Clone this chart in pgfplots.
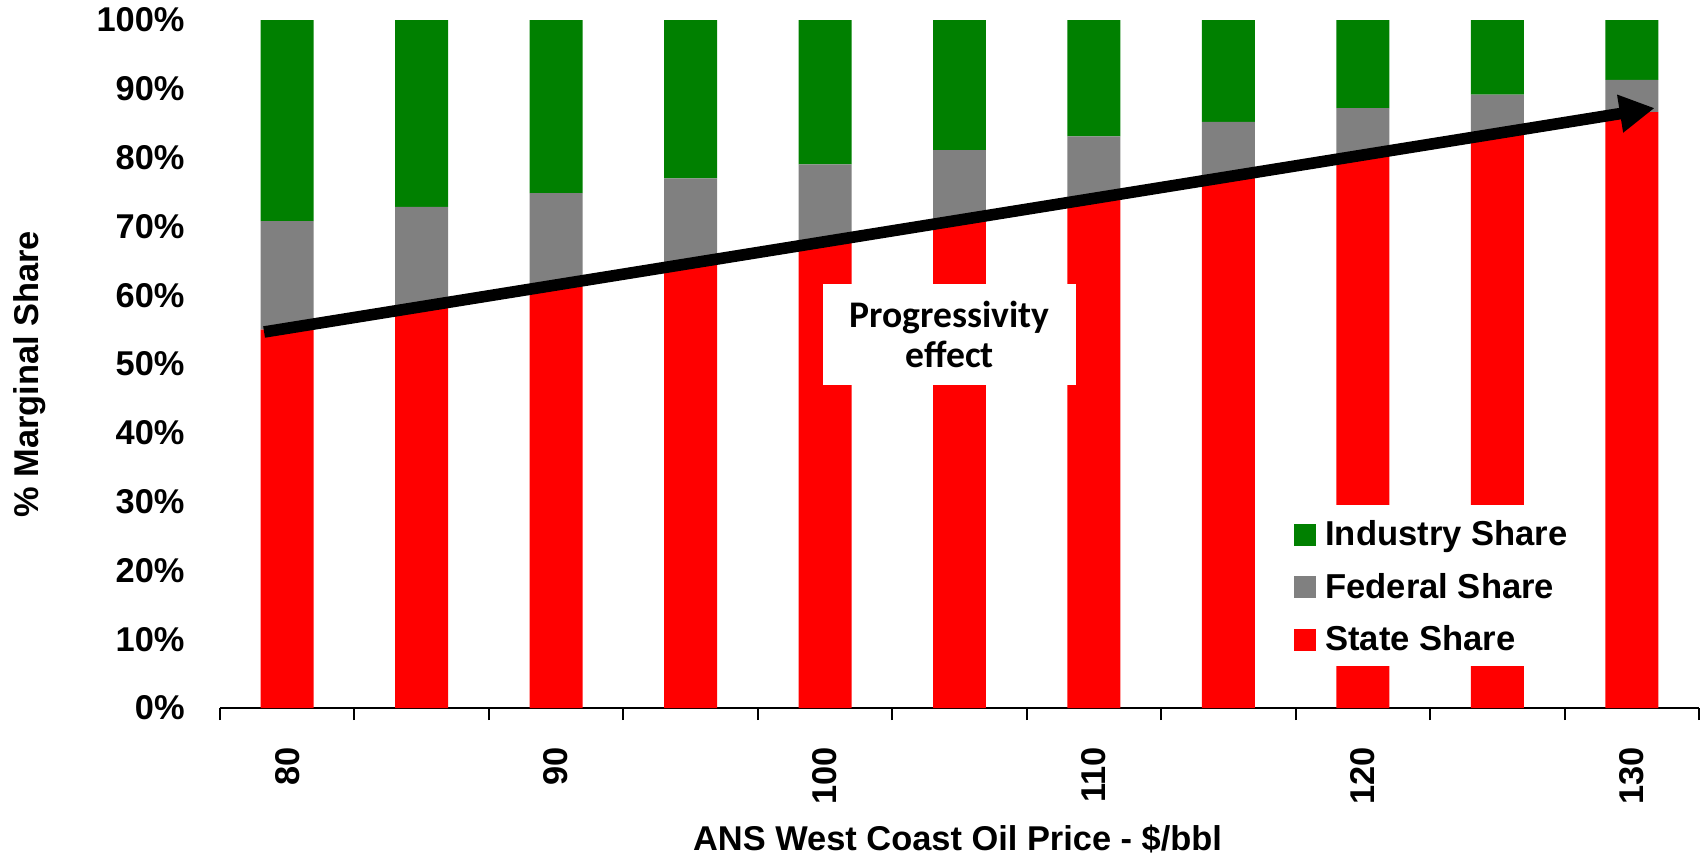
\documentclass[border=0pt]{standalone}
\usepackage{fontspec}
\setmainfont{Liberation Sans}
\newfontfamily\calib{Carlito}
\usepackage{pgfplots}
\pgfplotsset{compat=1.18}
\usetikzlibrary{arrows.meta}
\definecolor{stred}{HTML}{FF0000}
\definecolor{fedgray}{HTML}{808080}
\definecolor{indgreen}{HTML}{008000}
\begin{document}
\begin{tikzpicture}
\begin{axis}[
  name=ax,
  scale only axis,
  width=739.5pt, height=344pt,
  ybar stacked, bar width=1.97,
  xmin=77.5, xmax=132.5, ymin=0, ymax=100,
  axis x line*=bottom, axis y line*=left,
  y axis line style={draw=none},
  x axis line style={line width=1pt},
  xtick={80,90,100,110,120,130},
  xticklabels={80,90,100,110,120,130},
  minor xtick={77.5,82.5,...,132.5},
  minor tick length=6pt, major tick length=0pt,
  tick align=outside,
  every minor tick/.style={line width=1pt, black},
  ytick={0,10,...,100},
  yticklabels={0\%,10\%,20\%,30\%,40\%,50\%,60\%,70\%,80\%,90\%,100\%},
  ytick style={draw=none},
  xticklabel style={font=\fontsize{17.2}{20}\selectfont\bfseries, rotate=90, anchor=east, inner xsep=19.5pt, inner ysep=0pt},
  yticklabel style={font=\fontsize{17.2}{20}\selectfont\bfseries, anchor=east, inner xsep=17.5pt},
  xlabel={ANS West Coast Oil Price - \$/bbl},
  ylabel={\% Marginal Share},
  xlabel style={font=\fontsize{17.2}{20}\selectfont\bfseries, at={(axis description cs:0.4987,-0.207)}, anchor=base},
  ylabel style={font=\fontsize{17.2}{20}\selectfont\bfseries, at={(axis description cs:-0.129,0.485)}, anchor=center, rotate=0},
  reverse legend,
  legend style={at={(rel axis cs:0.72,0.295)}, anchor=north west, draw=none, fill=white,
    font=\fontsize{17.3}{20}\selectfont\bfseries, inner xsep=4.5pt, inner ysep=7.75pt,
    row sep=13.75pt, column sep=4.5pt,
    nodes={inner sep=0pt, text height=12.5pt, text depth=0pt, anchor=base west}},
  legend cell align=left,
  legend image code/.code={\fill[#1] (0pt,0pt) rectangle (11pt,11pt);},
]
\addplot[fill=stred, draw=none] coordinates {(80,55.0) (85,58.2) (90,61.3) (95,64.6) (100,67.7) (105,70.9) (110,74.0) (115,77.2) (120,80.3) (125,83.3) (130,86.6)};
\addplot[fill=fedgray, draw=none] coordinates {(80,15.75) (85,14.63) (90,13.55) (95,12.39) (100,11.31) (105,10.19) (110,9.10) (115,7.98) (120,6.90) (125,5.85) (130,4.69)};
\addplot[fill=indgreen, draw=none] coordinates {(80,29.25) (85,27.17) (90,25.15) (95,23.01) (100,20.99) (105,18.91) (110,16.90) (115,14.82) (120,12.80) (125,10.85) (130,8.71)};
\legend{State Share, Federal Share, Industry Share}
\coordinate (boxc) at (axis cs:104.64,54.3);
\coordinate (arrA) at (axis cs:79.14,54.65);
\coordinate (arrB) at (axis cs:130.85,87.2);
\end{axis}
\node[fill=white, minimum width=126.5pt, minimum height=50.5pt, inner sep=0pt, align=center,
  font=\calib\fontsize{18.8}{19.8}\selectfont\bfseries] at (boxc) {Progressivity\\effect};
\draw[line width=5.8pt, -{Triangle[length=17.5pt,width=18pt]}] (arrA) -- (arrB);
\pgfresetboundingbox
\path[use as bounding box] ([xshift=-110pt,yshift=-75pt]ax.south west) rectangle ([xshift=4.5pt,yshift=10pt]ax.north east);
\end{tikzpicture}
\end{document}
